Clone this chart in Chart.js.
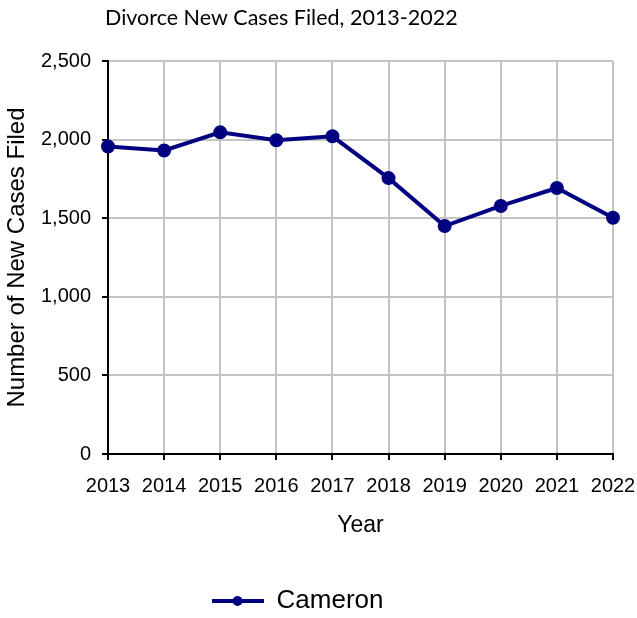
<!DOCTYPE html>
<html>
<head>
<meta charset="utf-8">
<title>Divorce New Cases Filed, 2013-2022</title>
<script src="https://cdn.jsdelivr.net/npm/chart.js@4.4.1/dist/chart.umd.min.js"></script>
<style>
  body { margin: 0; background: #fff; }
  #wrap { width: 637px; height: 618px; }
</style>
</head>
<body>
<div id="wrap"><canvas id="myChart" width="637" height="618"></canvas></div>
<script>
'use strict';

// chart data
let years = ['2013', '2014', '2015', '2016', '2017', '2018', '2019', '2020', '2021', '2022'];
let cameronCases = [1956, 1931, 2046, 1996, 2021, 1755, 1450, 1578, 1692, 1503];
let yTicks = [0, 500, 1000, 1500, 2000, 2500];

let chartTitle = 'Divorce New Cases Filed, 2013-2022';
let seriesName = 'Cameron';
let navy = '#000080';
let arial = "'Liberation Sans', Arial, sans-serif";

// legend marker: line with a dot in the middle
function makeLegendMarker() {
  let c = document.createElement('canvas');
  c.width = 52;
  c.height = 12;
  let g = c.getContext('2d');
  g.strokeStyle = navy;
  g.lineWidth = 4;
  g.beginPath();
  g.moveTo(0, 6);
  g.lineTo(52, 6);
  g.stroke();
  g.fillStyle = navy;
  g.beginPath();
  g.arc(26, 6, 5, 0, Math.PI * 2);
  g.fill();
  return c;
}
let legendMarker = makeLegendMarker();

// title sits left of centre, so draw it by hand
let titlePlugin = {
  id: 'leftTitle',
  afterLayout(chart) {
    // legend in the original sits a bit left of the canvas centre
    chart.legend.left -= 9;
    chart.legend.right -= 9;
    chart.legend.top += 1;
    chart.legend.bottom += 1;
  },
  afterDraw(chart) {
    let ctx = chart.ctx;
    ctx.save();
    ctx.font = "21.5px Lato, 'Open Sans', sans-serif";
    ctx.fillStyle = '#000';
    ctx.textBaseline = 'middle';
    ctx.textAlign = 'left';
    ctx.fillText(chartTitle, 105, 18);
    ctx.restore();
  }
};

let chartObject = {
  type: 'line',
  data: {
    labels: years,
    datasets: [{
      label: seriesName,
      data: cameronCases,
      borderColor: navy,
      backgroundColor: navy,
      borderWidth: 4,
      pointRadius: 5,
      pointHoverRadius: 5,
      tension: 0,
      clip: false
    }]
  },
  options: {
    responsive: false,
    animation: false,
    layout: {
      padding: { top: 61, right: 24, bottom: -5, left: 0 }
    },
    plugins: {
      title: { display: false },
      tooltip: { enabled: false },
      legend: {
        position: 'bottom',
        labels: {
          usePointStyle: true,
          pointStyleWidth: 52,
          padding: 10,
          color: '#000',
          font: { family: arial, size: 26 },
          generateLabels(chart) {
            return [{
              text: seriesName,
              pointStyle: legendMarker,
              fillStyle: navy,
              strokeStyle: navy,
              lineWidth: 0,
              datasetIndex: 0,
              hidden: false
            }];
          }
        }
      }
    },
    scales: {
      x: {
        type: 'category',
        offset: false,
        grid: {
          color: '#c4c4c4',
          lineWidth: 2,
          drawTicks: true,
          tickLength: 6,
          tickColor: '#000',
          tickWidth: 2
        },
        border: { color: '#000', width: 2 },
        ticks: {
          color: '#000',
          padding: 14,
          maxRotation: 0,
          autoSkip: false,
          font: { family: arial, size: 20 }
        },
        title: {
          display: true,
          text: 'Year',
          color: '#000',
          padding: { top: 4, bottom: 38 },
          font: { family: arial, size: 23 }
        },
        afterFit(scale) {
          scale.height = 123;
          // tick padding should not push the plot in from the right
          scale.paddingRight = 0;
        }
      },
      y: {
        min: 0,
        max: 2500,
        afterBuildTicks(scale) {
          scale.ticks = yTicks.map(v => ({ value: v }));
        },
        grid: {
          color: '#c4c4c4',
          lineWidth: 2,
          drawTicks: true,
          tickLength: 6,
          tickColor: '#000',
          tickWidth: 2
        },
        border: { color: '#000', width: 2 },
        ticks: {
          color: '#000',
          padding: 11,
          font: { family: arial, size: 20 },
          callback: v => v.toLocaleString('en-US')
        },
        title: {
          display: true,
          text: 'Number of New Cases Filed',
          color: '#000',
          padding: { top: 3, bottom: 0 },
          font: { family: arial, size: 24 }
        },
        afterFit(scale) {
          scale.width = 108;
        }
      }
    }
  },
  plugins: [titlePlugin]
};

let ctx = document.getElementById('myChart').getContext('2d');
let myChart = new Chart(ctx, chartObject);
</script>
</body>
</html>
